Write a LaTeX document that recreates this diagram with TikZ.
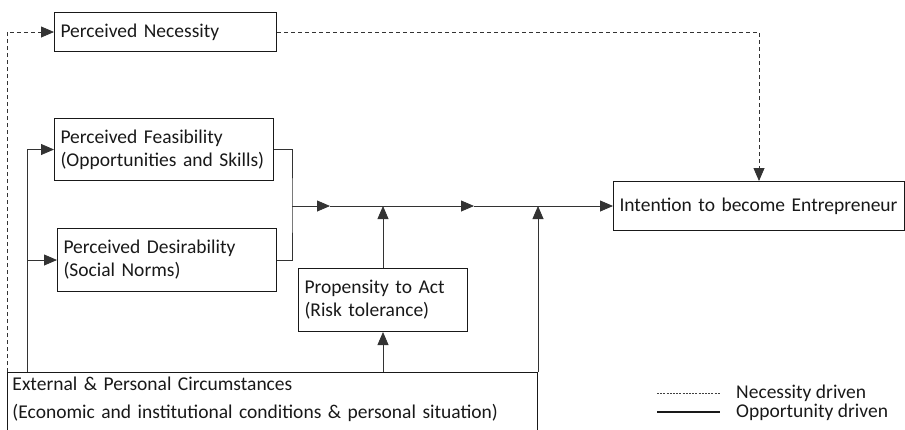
\documentclass[tikz,border=0pt]{standalone}
\usepackage{fontspec}
\setmainfont{Carlito}
\usetikzlibrary{arrows.meta,positioning}

\begin{document}
\begin{tikzpicture}
[x=1pt,y=-1pt,
every node/.style={font=\fontsize{19.5}{23}\selectfont,text=black!90},
factor/.style={draw=black!90,line width=1pt,anchor=north west,align=left,inner xsep=6pt,inner ysep=0pt},
opp/.style={draw=black!80,line width=0.8pt},
nec/.style={draw=black!80,line width=0.8pt,dash pattern=on 4pt off 3pt},
tip/.style={-{Triangle[length=13pt,width=11pt]}}]
\useasboundingbox (0,0) rectangle (905,429);
\node[factor,text width=210pt,minimum height=39pt] (necessity) at (54,12) {Perceived Necessity};
\node[factor,text width=207pt,minimum height=62pt] (feasibility) at (54,118) {Perceived Feasibility\\(Opportunities and Skills)};
\node[factor,text width=207pt,minimum height=63pt] (desirability) at (57,228) {Perceived Desirability\\(Social Norms)};
\node[factor,text width=157pt,minimum height=63pt] (propensity) at (298,268) {Propensity to Act\\(Risk tolerance)};
\node[factor,text width=279pt,minimum height=49pt] (intention) at (613,181) {Intention to become Entrepreneur};
\node[factor,text width=520pt,minimum height=78pt,inner xsep=5pt] (circumstances) at (7,372)
{External \& Personal Circumstances\\[5pt](Economic and institutional conditions \& personal situation)\\[5pt]\mbox{}};
% joints on the main line
\coordinate (join) at (292,206);
\coordinate (mid1) at (330,206);
\coordinate (mid2) at (474,206);
\coordinate (left) at (27,372);
% opportunity driven
\draw[opp] (feasibility.east) -| (join) |- (desirability.east);
\draw[opp,tip] (join) -- (mid1);
\draw[opp,tip] (mid1) -- (mid2);
\draw[opp,tip] (mid2) -- (intention.west);
\draw[opp,tip] (left) |- (feasibility.west);
\draw[opp,tip] (left |- desirability.west) -- (desirability.west);
\draw[opp,tip] (propensity.south |- circumstances.north) -- (propensity.south);
\draw[opp,tip] (propensity.north) -- (propensity.north |- join);
\draw[opp,tip] (circumstances.north east) -- (circumstances.north east |- join);
% necessity driven
\draw[nec,tip] (circumstances.north west) |- (necessity.west);
\draw[nec,tip] (necessity.east) -| (intention.north);
% legend
\coordinate (legA) at (657,393);
\coordinate (legA') at (720,393);
\coordinate (legB) at (657,412);
\coordinate (legB') at (720,412);
\node[anchor=west,inner sep=0pt] (necdrv) at (736,393) {Necessity driven};
\node[anchor=west,inner sep=0pt] (oppdrv) at (736,412) {Opportunity driven};
\draw[draw=black!75,line width=0.6pt,dash pattern=on 2pt off 1.2pt] (legA) -- (legA');
\draw[draw=black!90,line width=2pt] (legB) -- (legB');
\end{tikzpicture}
\end{document}
